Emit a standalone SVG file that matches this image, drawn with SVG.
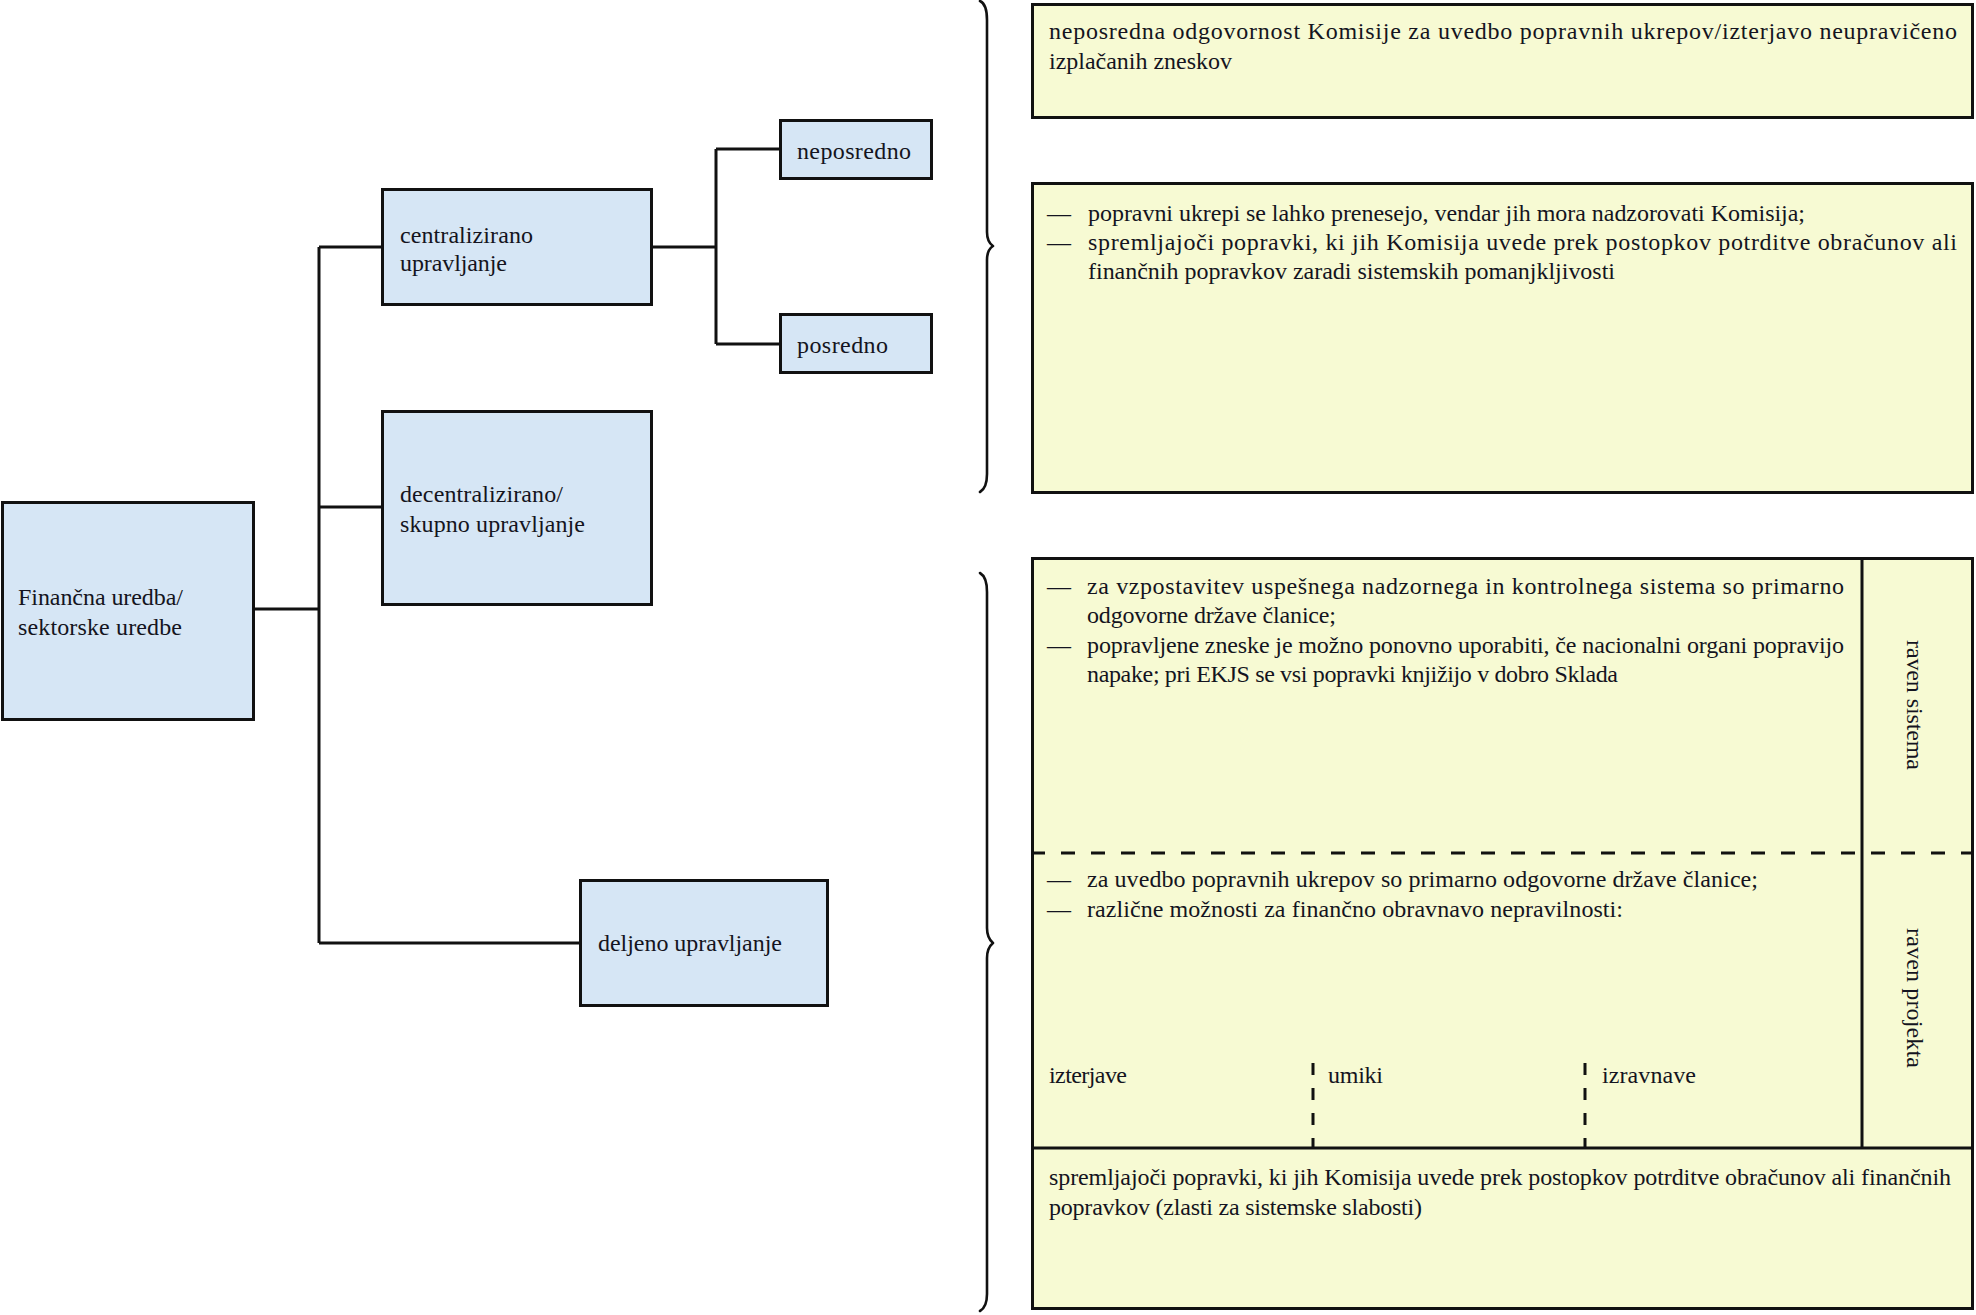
<svg xmlns="http://www.w3.org/2000/svg" width="1976" height="1315" viewBox="0 0 1976 1315">
<style>
.t{font-family:"Liberation Serif","Times New Roman",serif;font-size:24px;fill:#141420}
.blue{fill:#d6e6f5;stroke:#111;stroke-width:3}
.yel{fill:#f7fad3;stroke:#111;stroke-width:3}
.ln{fill:none;stroke:#111;stroke-width:3}
.dh{fill:none;stroke:#111;stroke-width:3;stroke-dasharray:14 16}
.dv{fill:none;stroke:#111;stroke-width:3;stroke-dasharray:12 13}
.br{fill:none;stroke:#111;stroke-width:2.6;stroke-linecap:round;stroke-linejoin:round}
</style>
<rect width="1976" height="1315" fill="#fff"/>
<g id="connectors">
<path class="ln" d="M255 609H319M319 247V943M319 247H381M319 507H381M319 943H580"/>
<path class="ln" d="M652 247H716M716 149V344M716 149H779M716 344H779"/>
</g>
<g id="braces">
<path class="br" d="M980 1 Q987 4 987 20 L987 232 Q987 242 993 246 Q987 250 987 260 L987 474 Q987 488 980 492"/>
<path class="br" d="M980 573 Q987 577 987 592 L987 928 Q987 938 993 943 Q987 948 987 958 L987 1294 Q987 1307 980 1311"/>
</g>
<g id="node-financna">
<rect class="blue" x="2.5" y="502.5" width="251" height="217"/>
<text class="t" x="18" y="605" textLength="165">Finančna uredba/</text>
<text class="t" x="18" y="635" textLength="164">sektorske uredbe</text>
</g>
<g id="node-centralizirano">
<rect class="blue" x="382.5" y="189.5" width="269" height="115"/>
<text class="t" x="400" y="243" textLength="133">centralizirano</text>
<text class="t" x="400" y="271" textLength="107">upravljanje</text>
</g>
<g id="node-decentralizirano">
<rect class="blue" x="382.5" y="411.5" width="269" height="193"/>
<text class="t" x="400" y="502" textLength="163">decentralizirano/</text>
<text class="t" x="400" y="532" textLength="185">skupno upravljanje</text>
</g>
<g id="node-neposredno">
<rect class="blue" x="780.5" y="120.5" width="151" height="58"/>
<text class="t" x="797" y="159" textLength="114">neposredno</text>
</g>
<g id="node-posredno">
<rect class="blue" x="780.5" y="314.5" width="151" height="58"/>
<text class="t" x="797" y="353" textLength="91">posredno</text>
</g>
<g id="node-deljeno">
<rect class="blue" x="580.5" y="880.5" width="247" height="125"/>
<text class="t" x="598" y="951" textLength="184">deljeno upravljanje</text>
</g>
<g id="box-neposredna">
<rect class="yel" x="1032.5" y="4.5" width="940" height="113"/>
<text class="t" x="1049" y="39" textLength="908">neposredna odgovornost Komisije za uvedbo popravnih ukrepov/izterjavo neupravičeno</text>
<text class="t" x="1049" y="69" textLength="183">izplačanih zneskov</text>
</g>
<g id="box-posredna">
<rect class="yel" x="1032.5" y="183.5" width="940" height="309"/>
<text class="t" x="1047" y="221">—</text>
<text class="t" x="1088" y="221" textLength="717">popravni ukrepi se lahko prenesejo, vendar jih mora nadzorovati Komisija;</text>
<text class="t" x="1047" y="250">—</text>
<text class="t" x="1088" y="250" textLength="869">spremljajoči popravki, ki jih Komisija uvede prek postopkov potrditve obračunov ali</text>
<text class="t" x="1088" y="279" textLength="527">finančnih popravkov zaradi sistemskih pomanjkljivosti</text>
</g>
<g id="box-deljeno">
<rect class="yel" x="1032.5" y="558.5" width="940" height="750"/>
<path class="ln" d="M1862 558V1148M1031 1148H1974"/>
<path class="dh" d="M1031 853H1974"/>
<path class="dv" d="M1313 1063V1148M1585 1063V1148"/>
<text class="t" x="1047" y="594">—</text>
<text class="t" x="1087" y="594" textLength="757">za vzpostavitev uspešnega nadzornega in kontrolnega sistema so primarno</text>
<text class="t" x="1087" y="623" textLength="249">odgovorne države članice;</text>
<text class="t" x="1047" y="653">—</text>
<text class="t" x="1087" y="653" textLength="757">popravljene zneske je možno ponovno uporabiti, če nacionalni organi popravijo</text>
<text class="t" x="1087" y="682" textLength="531">napake; pri EKJS se vsi popravki knjižijo v dobro Sklada</text>
<text class="t" x="1047" y="887">—</text>
<text class="t" x="1087" y="887" textLength="671">za uvedbo popravnih ukrepov so primarno odgovorne države članice;</text>
<text class="t" x="1047" y="917">—</text>
<text class="t" x="1087" y="917" textLength="536">različne možnosti za finančno obravnavo nepravilnosti:</text>
<text class="t" x="1049" y="1083" textLength="78">izterjave</text>
<text class="t" x="1328" y="1083" textLength="55">umiki</text>
<text class="t" x="1602" y="1083" textLength="94">izravnave</text>
<text class="t" x="1049" y="1185" textLength="902">spremljajoči popravki, ki jih Komisija uvede prek postopkov potrditve obračunov ali finančnih</text>
<text class="t" x="1049" y="1215" textLength="373">popravkov (zlasti za sistemske slabosti)</text>
<text class="t" transform="translate(1907 640) rotate(90)" x="0" y="0" textLength="130">raven sistema</text>
<text class="t" transform="translate(1907 928) rotate(90)" x="0" y="0" textLength="140">raven projekta</text>
</g>
</svg>
